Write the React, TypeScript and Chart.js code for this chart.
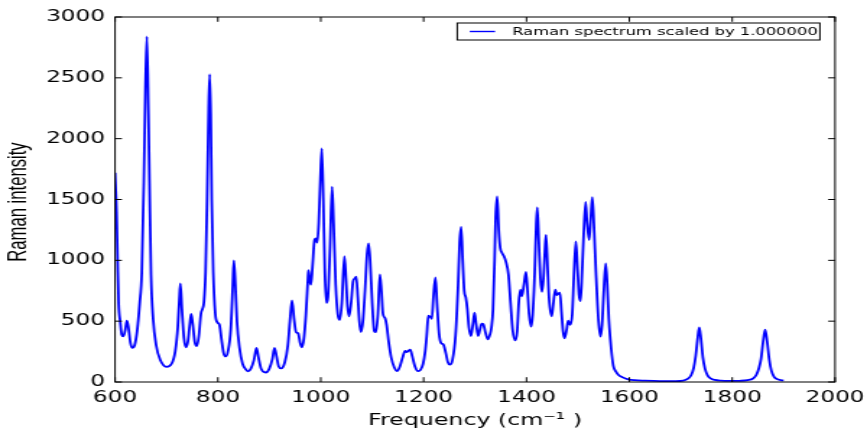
import React, { useEffect, useRef } from "react";
import { Chart, registerables } from "chart.js";

Chart.register(...registerables);

const SERIES_LABEL = "Raman spectrum scaled by 1.000000";
const X_TITLE = "Frequency (cm\u207B\u00B9 )";
const Y_TITLE = "Raman intensity";
const X_TICKS = [600, 800, 1000, 1200, 1400, 1600, 1800, 2000];
const Y_TICKS = [0, 500, 1000, 1500, 2000, 2500, 3000];

const FREQ = [
  600, 603, 605, 607, 610, 613, 616, 620, 623, 626, 630, 634, 638, 643, 648, 652, 656, 659, 662, 665,
  667, 670, 674, 680, 688, 700, 710, 717, 722, 725, 727, 730, 734, 738, 742, 745, 748, 751, 755, 759,
  763, 767, 770, 773, 776, 779, 782, 784, 786, 788, 791, 795, 799, 803, 807, 811, 815, 820, 825, 829,
  831, 834, 837, 842, 848, 855, 859, 864, 870, 875, 879, 884, 893, 900, 906, 910, 914, 918, 923, 930,
  936, 940, 944, 948, 952, 956, 960, 963, 967, 971, 975, 976, 979, 981, 984, 988, 991, 993, 996, 999,
  1002, 1005, 1008, 1011, 1014, 1018, 1022, 1025, 1029, 1033, 1037, 1041, 1046, 1049, 1052, 1055, 1059, 1063, 1066, 1069,
  1072, 1075, 1078, 1082, 1086, 1090, 1093, 1096, 1100, 1104, 1107, 1111, 1115, 1118, 1121, 1125, 1128, 1132, 1137, 1143,
  1149, 1154, 1159, 1164, 1167, 1170, 1174, 1178, 1183, 1189, 1194, 1199, 1203, 1206, 1209, 1213, 1216, 1219, 1223, 1226,
  1230, 1234, 1238, 1243, 1247, 1251, 1256, 1262, 1267, 1270, 1273, 1276, 1279, 1282, 1285, 1288, 1292, 1296, 1299, 1302,
  1306, 1310, 1313, 1316, 1320, 1325, 1329, 1332, 1335, 1338, 1340, 1343, 1346, 1349, 1352, 1356, 1360, 1365, 1369, 1373,
  1378, 1382, 1385, 1388, 1391, 1395, 1399, 1402, 1405, 1409, 1412, 1416, 1419, 1421, 1424, 1427, 1430, 1433, 1436, 1438,
  1441, 1444, 1449, 1452, 1456, 1459, 1462, 1465, 1468, 1471, 1474, 1478, 1481, 1485, 1489, 1492, 1496, 1499, 1502, 1505,
  1508, 1511, 1515, 1518, 1522, 1525, 1528, 1531, 1535, 1540, 1544, 1547, 1550, 1554, 1557, 1560, 1563, 1566, 1569, 1574,
  1579, 1587, 1598, 1610, 1630, 1660, 1690, 1705, 1714, 1720, 1725, 1729, 1733, 1736, 1739, 1743, 1747, 1752, 1758, 1766,
  1778, 1795, 1815, 1830, 1841, 1847, 1852, 1856, 1860, 1864, 1868, 1872, 1876, 1881, 1887, 1894, 1900,
];

const INTENSITY = [
  1720, 1400, 1000, 650, 500, 390, 375, 430, 505, 450, 320, 280, 300, 420, 650, 900, 1650, 2400, 2840, 2200,
  1650, 880, 520, 300, 180, 125, 150, 250, 450, 680, 810, 600, 360, 285, 340, 460, 560, 480, 330, 295,
  380, 560, 600, 660, 900, 1500, 2250, 2530, 2200, 1500, 900, 560, 490, 470, 350, 240, 210, 260, 430, 800,
  1000, 800, 500, 280, 150, 100, 88, 110, 180, 280, 200, 110, 78, 110, 190, 280, 210, 130, 112, 160,
  300, 500, 670, 520, 410, 400, 320, 285, 350, 550, 850, 920, 830, 800, 950, 1170, 1180, 1145, 1300, 1650,
  1920, 1500, 900, 650, 700, 1100, 1605, 1300, 800, 560, 510, 650, 1035, 850, 620, 540, 650, 830, 850, 866,
  700, 500, 410, 500, 750, 1050, 1140, 1000, 650, 420, 410, 550, 885, 750, 560, 525, 470, 330, 200, 120,
  90, 130, 200, 255, 245, 255, 265, 210, 130, 90, 100, 150, 250, 380, 545, 535, 520, 700, 860, 650,
  400, 320, 310, 240, 165, 143, 180, 380, 800, 1150, 1275, 1000, 750, 695, 600, 450, 378, 480, 570, 480,
  378, 440, 480, 475, 410, 351, 390, 450, 600, 1000, 1350, 1525, 1250, 1100, 1065, 1035, 990, 880, 650, 430,
  342, 420, 650, 760, 705, 800, 905, 750, 560, 455, 550, 900, 1300, 1435, 1150, 850, 740, 850, 1100, 1210,
  950, 680, 540, 640, 760, 715, 725, 735, 580, 420, 359, 430, 505, 470, 560, 850, 1155, 950, 720, 665,
  900, 1200, 1480, 1300, 1167, 1350, 1520, 1300, 900, 500, 373, 470, 720, 975, 800, 520, 350, 220, 130, 85,
  58, 38, 22, 15, 11, 8, 8, 12, 28, 55, 115, 215, 365, 448, 365, 200, 110, 55, 30, 17,
  11, 9, 10, 15, 30, 60, 115, 190, 330, 430, 330, 185, 95, 45, 25, 16, 12,
];

const FONT = "'DejaVu Sans', sans-serif";

const frameTicks = {
  id: "frameTicks",
  afterDatasetsDraw(chart: any) {
    const { ctx, chartArea: a, scales } = chart;
    const L = 4.8;
    ctx.save();
    ctx.strokeStyle = "#000";
    ctx.lineWidth = 1;
    ctx.beginPath();
    for (const t of scales.x.ticks) {
      const px = scales.x.getPixelForValue(t.value);
      ctx.moveTo(px, a.bottom);
      ctx.lineTo(px, a.bottom - L);
      ctx.moveTo(px, a.top);
      ctx.lineTo(px, a.top + L);
    }
    for (const t of scales.y.ticks) {
      const py = scales.y.getPixelForValue(t.value);
      ctx.moveTo(a.left, py);
      ctx.lineTo(a.left + L, py);
      ctx.moveTo(a.right, py);
      ctx.lineTo(a.right - L, py);
    }
    ctx.stroke();
    ctx.strokeRect(a.left, a.top, a.right - a.left, a.bottom - a.top);
    ctx.restore();
  },
};

const boxLegend = {
  id: "boxLegend",
  afterDraw(chart: any) {
    const { ctx, chartArea: a } = chart;
    const ds = chart.data.datasets[0];
    const w = 251;
    const h = 17;
    const right = a.right - 10.5;
    const left = right - w;
    const top = a.top + 6;
    ctx.save();
    ctx.fillStyle = "#fff";
    ctx.fillRect(left, top, w, h);
    ctx.strokeStyle = "#000";
    ctx.lineWidth = 1;
    ctx.strokeRect(left, top, w, h);
    const cy = top + h / 2;
    ctx.strokeStyle = ds.borderColor;
    ctx.lineWidth = 1.4;
    ctx.beginPath();
    ctx.moveTo(left + 8.7, cy);
    ctx.lineTo(left + 26.2, cy);
    ctx.stroke();
    ctx.fillStyle = "#000";
    ctx.font = `11.3px ${FONT}`;
    ctx.textBaseline = "middle";
    ctx.textAlign = "left";
    ctx.fillText(ds.label, left + 38, cy + 0.5);
    ctx.restore();
  },
};

// condensed, rotated y-axis title (as in the reference)
const yTitle = {
  id: "yTitle",
  afterDraw(chart: any) {
    const { ctx } = chart;
    ctx.save();
    ctx.translate(12.6, 202);
    ctx.rotate(-Math.PI / 2);
    ctx.scale(0.9, 1);
    ctx.fillStyle = "#000";
    ctx.font = "18.5px 'Liberation Sans', Arial, sans-serif";
    ctx.textAlign = "center";
    ctx.textBaseline = "middle";
    ctx.fillText(Y_TITLE, 0, 0);
    ctx.restore();
  },
};

export default function App() {
  const ref = useRef<HTMLCanvasElement | null>(null);

  useEffect(() => {
    document.body.style.margin = "0";
    const canvas = ref.current;
    if (!canvas) return;
    const chart = new Chart(canvas, {
      type: "line",
      data: {
        datasets: [
          {
            label: SERIES_LABEL,
            data: FREQ.map((f, i) => ({ x: f, y: INTENSITY[i] })),
            borderColor: "#0000ff",
            borderWidth: 1.8,
            pointRadius: 0,
            fill: false,
            cubicInterpolationMode: "monotone",
          },
        ],
      },
      options: {
        animation: false,
        responsive: false,
        devicePixelRatio: 1,
        layout: { padding: { left: 0, right: 22.1, top: 17, bottom: 0 } },
        plugins: {
          legend: { display: false },
          tooltip: { enabled: false },
        },
        scales: {
          x: {
            type: "linear",
            min: X_TICKS[0],
            max: X_TICKS[X_TICKS.length - 1],
            afterBuildTicks: (s: any) => {
              s.ticks = X_TICKS.map((v) => ({ value: v }));
            },
            afterFit: (s: any) => {
              s.height = 48;
              s.paddingRight = 0;
              s.paddingLeft = 0;
            },
            grid: { display: false, drawTicks: false },
            border: { display: false },
            ticks: {
              color: "#000",
              font: { family: FONT, size: 16 },
              padding: 6,
              maxRotation: 0,
              autoSkip: false,
              callback: (v: any) => String(v),
            },
            title: {
              display: true,
              text: X_TITLE,
              color: "#000",
              font: { family: FONT, size: 16.4, lineHeight: 1.1 },
              padding: { top: 0, bottom: 0 },
            },
          },
          y: {
            type: "linear",
            min: Y_TICKS[0],
            max: Y_TICKS[Y_TICKS.length - 1],
            afterBuildTicks: (s: any) => {
              s.ticks = Y_TICKS.map((v) => ({ value: v }));
            },
            afterFit: (s: any) => {
              s.width = 79.6;
              s.paddingTop = 0;
              s.paddingBottom = 0;
            },
            grid: { display: false, drawTicks: false },
            border: { display: false },
            ticks: {
              color: "#000",
              font: { family: FONT, size: 16 },
              padding: 7,
              autoSkip: false,
              callback: (v: any) => String(v),
            },
            title: { display: false },
          },
        },
      },
      plugins: [frameTicks, boxLegend, yTitle],
    } as any);
    return () => chart.destroy();
  }, []);

  return (
    <div style={{ width: 867, height: 430 }}>
      <canvas
        ref={ref}
        width={600}
        height={430}
        style={{ width: "867px", height: "430px", display: "block" }}
      />
    </div>
  );
}
